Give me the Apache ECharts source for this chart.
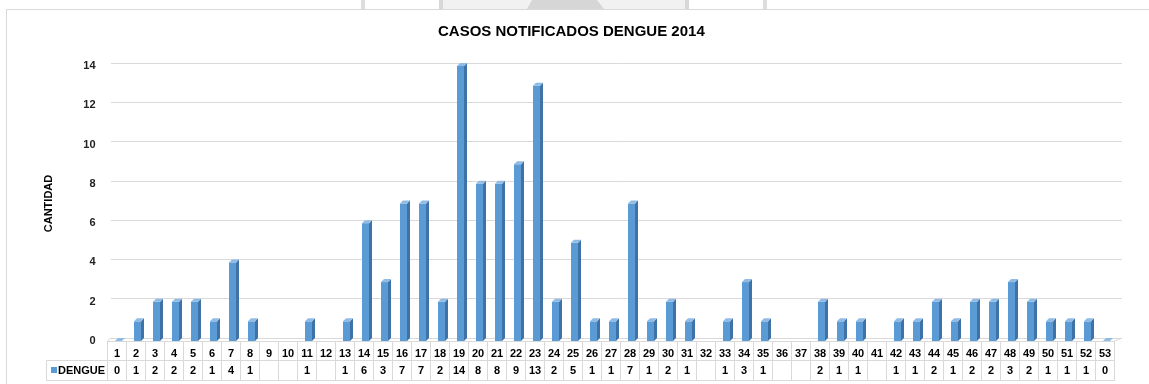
<!DOCTYPE html>
<html>
<head>
<meta charset="utf-8">
<script src="https://cdn.jsdelivr.net/npm/echarts@6/dist/echarts.min.js"></script>
<style>
  html, body { margin: 0; padding: 0; background: #ffffff; }
  #chart { width: 1149px; height: 384px; }
</style>
</head>
<body>
<div id="chart"></div>
<script>
// Epidemiological weeks 1..53
const weeks = ['1','2','3','4','5','6','7','8','9','10','11','12','13','14','15','16','17','18','19','20',
  '21','22','23','24','25','26','27','28','29','30','31','32','33','34','35','36','37','38','39','40',
  '41','42','43','44','45','46','47','48','49','50','51','52','53'];

// Dengue cases reported per week (null = no record)
const dengue = [0, 1, 2, 2, 2, 1, 4, 1, null, null, 1, null, 1, 6, 3, 7, 7, 2, 14, 8,
  8, 9, 13, 2, 5, 1, 1, 7, 1, 2, 1, null, 1, 3, 1, null, null, 2, 1, 1,
  null, 1, 1, 2, 1, 2, 2, 3, 2, 1, 1, 1, 0];

const yTicks = [0, 2, 4, 6, 8, 10, 12, 14];

const seriesName = 'DENGUE';
const titleText = 'CASOS NOTIFICADOS DENGUE 2014';
const yName = 'CANTIDAD';

const FONT = '"Liberation Sans", Arial, sans-serif';
const GRIDLINE = '#d9d9d9';
const FRONT = '#5b9bd5';
const SIDE = '#3f72a6';
const TOP = '#8fbbe6';

const chart = echarts.init(document.getElementById('chart'), null, { renderer: 'canvas' });

// Simple extruded bar: front face, right side and top
function renderBar(params, api) {
  const v = api.value(1);
  if (v === null || v === undefined || isNaN(v)) return;
  const base = api.coord([api.value(0), 0]);
  const top = api.coord([api.value(0), v]);
  const bw = api.size([1, 0])[0];
  const fw = Math.round(bw * 0.37);
  const d = 3;
  const x = Math.round(base[0] - bw * 0.1);
  const yb = base[1];
  const yt = top[1];
  return {
    type: 'group',
    children: [
      { type: 'rect', shape: { x: x, y: yt, width: fw, height: yb - yt }, style: { fill: FRONT } },
      { type: 'polygon', shape: { points: [[x + fw, yt], [x + fw + d, yt - d], [x + fw + d, yb - d], [x + fw, yb]] }, style: { fill: SIDE } },
      { type: 'polygon', shape: { points: [[x, yt], [x + d, yt - d], [x + fw + d, yt - d], [x + fw, yt]] }, style: { fill: TOP } }
    ]
  };
}

const valueAxisBase = {
  type: 'value', min: 0, max: 14, interval: 2,
  axisLine: { show: false }, axisTick: { show: false }
};

const option = {
  animation: false,
  backgroundColor: '#ffffff',
  title: {
    text: titleText, left: 433, top: 19,
    textStyle: { fontFamily: FONT, fontSize: 15, fontWeight: 'bold', color: '#000000' }
  },
  grid: [
    { left: 107.5, right: 34.5, top: 66, bottom: 43 },
    { left: 111, right: 27, top: 63, bottom: 46 }
  ],
  xAxis: [
    {
      type: 'category', gridIndex: 0, data: weeks, position: 'bottom',
      axisLine: { show: true, lineStyle: { color: GRIDLINE, width: 1 } },
      axisTick: { show: true, interval: 0, length: 39, lineStyle: { color: GRIDLINE } },
      axisLabel: { interval: 0, margin: 7, fontFamily: FONT, fontSize: 11, fontWeight: 'bold', color: '#000000' },
      splitLine: { show: false }
    },
    {
      type: 'category', gridIndex: 0, data: weeks, position: 'bottom', offset: 19,
      axisLine: { show: true, lineStyle: { color: GRIDLINE, width: 1 } },
      axisTick: { show: false },
      axisLabel: {
        interval: 0, margin: 5, fontFamily: FONT, fontSize: 11, fontWeight: 'bold', color: '#000000',
        formatter: function (val, idx) { const v = dengue[idx]; return v === null ? '' : String(v); }
      }
    },
    {
      type: 'category', gridIndex: 0, data: weeks, position: 'bottom', offset: 39,
      axisLine: { show: true, lineStyle: { color: GRIDLINE, width: 1 } },
      axisTick: { show: false }, axisLabel: { show: false }
    },
    {
      type: 'category', gridIndex: 1, data: weeks, show: false
    }
  ],
  yAxis: [
    Object.assign({}, valueAxisBase, {
      gridIndex: 0,
      name: yName, nameLocation: 'middle', nameGap: 53, nameRotate: 90,
      nameTextStyle: { fontFamily: FONT, fontSize: 11, fontWeight: 'bold', color: '#000000' },
      axisLabel: {
        margin: 12, fontFamily: FONT, fontSize: 11, fontWeight: 'bold', color: '#222222',
        formatter: function (v) { return yTicks.indexOf(v) >= 0 ? String(v) : ''; }
      },
      splitLine: { show: false }
    }),
    Object.assign({}, valueAxisBase, {
      gridIndex: 1,
      axisLabel: { show: false },
      splitLine: { show: true, lineStyle: { color: GRIDLINE, width: 1 } }
    })
  ],
  series: [
    {
      name: seriesName, type: 'custom', xAxisIndex: 0, yAxisIndex: 0,
      renderItem: renderBar,
      encode: { x: 0, y: 1 },
      data: dengue.map(function (v, i) { return [i, v === null ? NaN : v]; }),
      z: 5
    }
  ],
  graphic: [
    // chart frame
    { type: 'rect', silent: true, shape: { x: 6.5, y: 9.5, width: 1300, height: 500 }, style: { fill: 'none', stroke: '#d9d9d9', lineWidth: 1 } },
    // legend cell of the data table
    { type: 'polyline', silent: true, shape: { points: [[107.5, 360.5], [46.5, 360.5], [46.5, 380.5], [107.5, 380.5]] }, style: { fill: 'none', stroke: GRIDLINE, lineWidth: 1 } },
    { type: 'rect', silent: true, shape: { x: 51, y: 367, width: 6, height: 6 }, style: { fill: FRONT } },
    { type: 'text', silent: true, style: { x: 58, y: 370.5, text: seriesName, fill: '#000000', font: 'bold 11px ' + FONT, textVerticalAlign: 'middle' } },
    // floor edges
    { type: 'line', silent: true, shape: { x1: 107.5, y1: 341, x2: 111, y2: 338 }, style: { stroke: GRIDLINE } },
    { type: 'line', silent: true, shape: { x1: 1114.5, y1: 341, x2: 1122, y2: 338 }, style: { stroke: GRIDLINE } },
    // page strip above the frame
    { type: 'rect', silent: true, shape: { x: 361, y: 0, width: 4, height: 9 }, style: { fill: '#dddddd' } },
    { type: 'rect', silent: true, shape: { x: 439, y: 0, width: 250, height: 9 }, style: { fill: '#f1f1f1' } },
    { type: 'rect', silent: true, shape: { x: 439, y: 0, width: 4, height: 9 }, style: { fill: '#d8d8d8' } },
    { type: 'polygon', silent: true, shape: { points: [[532, 0], [597, 0], [604, 9], [527, 9]] }, style: { fill: '#d6d6d6' } },
    { type: 'rect', silent: true, shape: { x: 685, y: 0, width: 4, height: 9 }, style: { fill: '#d8d8d8' } },
    { type: 'rect', silent: true, shape: { x: 763, y: 0, width: 4, height: 9 }, style: { fill: '#dddddd' } }
  ]
};

chart.setOption(option);
</script>
</body>
</html>
